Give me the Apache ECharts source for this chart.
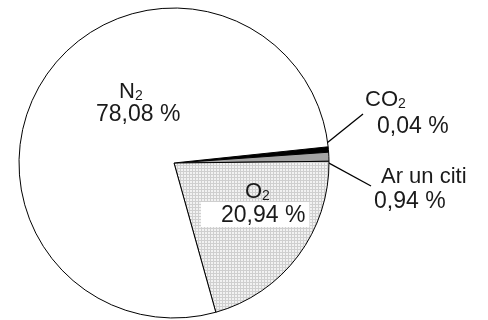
<!DOCTYPE html>
<html>
<head>
<meta charset="utf-8">
<script src="https://cdn.jsdelivr.net/npm/echarts@6/dist/echarts.min.js"></script>
<style>html,body{margin:0;padding:0;background:#fff}#c{width:488px;height:320px}</style>
</head>
<body>
<div id="c"></div>
<script>
// ---- data ----
const names = ['CO2', 'Ar un citi', 'O2', 'N2'];
const values = [0.04, 0.94, 20.94, 78.08];
const valueLabels = ['0,04 %', '0,94 %', '20,94 %', '78,08 %'];

// ---- layout / style (not data) ----
const CX = 174, CY = 163, R = 155;
// label top-left [x, y] and optional leader-line end [x, y]
const LABEL_POS = [
  [365, 87, 363, 114],
  [374, 164, 371, 186],
  [201, 179],
  [96, 79]
];

function makePattern() {
  const c = document.createElement('canvas');
  c.width = 3; c.height = 3;
  const g = c.getContext('2d');
  g.fillStyle = '#f2f2f2'; g.fillRect(0, 0, 3, 3);
  g.fillStyle = '#cfcfcf';
  g.fillRect(0, 0, 3, 1);
  g.fillRect(0, 0, 1, 3);
  return c;
}
const colors = ['#000000', '#a3a3a3', { image: makePattern(), repeat: 'repeat' }, '#ffffff'];

const FONT = '"Liberation Sans", Arial, sans-serif';
const base = { color: '#1a1a1a', fontFamily: FONT };
function st(o) { return Object.assign({}, base, o); }
const rich = {
  n:  st({ fontSize: 22, lineHeight: 24, verticalAlign: 'bottom' }),
  nN: st({ fontSize: 22, lineHeight: 24, verticalAlign: 'bottom', padding: [0, 0, 0, 23] }),
  nO: st({ fontSize: 22, lineHeight: 24, verticalAlign: 'bottom', padding: [0, 0, 0, 44] }),
  nA: st({ fontSize: 22, lineHeight: 24, verticalAlign: 'bottom', padding: [0, 0, 0, 7] }),
  s:  st({ fontSize: 14, lineHeight: 14, verticalAlign: 'bottom' }),
  v:  st({ fontSize: 23, lineHeight: 24 }),
  vA: st({ fontSize: 23, lineHeight: 27 }),
  vC: st({ fontSize: 23, lineHeight: 31, padding: [0, 0, 0, 12] }),
  vO: st({ fontSize: 23, lineHeight: 23, backgroundColor: '#ffffff', padding: [2, 4, 0, 20] })
};

function nameText(i) {
  const n = names[i];
  if (n === 'CO2') return '{n|CO}{s|2}';
  if (n === 'O2') return '{nO|O}{s|2}';
  if (n === 'N2') return '{nN|N}{s|2}';
  return '{nA|' + n + '}';
}
function valueText(i) {
  const n = names[i];
  if (n === 'CO2') return '{vC|' + valueLabels[i] + '}';
  if (n === 'O2') return '{vO|' + valueLabels[i] + '}';
  if (n === 'N2') return '{v|' + valueLabels[i] + '}';
  return '{vA|' + valueLabels[i] + '}';
}

const data = names.map((n, i) => ({
  name: n,
  value: values[i],
  itemStyle: { color: colors[i] },
  label: { position: i < 2 ? 'outside' : 'inside' },
  labelLine: { show: i < 2 }
}));

const chart = echarts.init(document.getElementById('c'), null, { renderer: 'canvas' });
chart.setOption({
  animation: false,
  backgroundColor: '#ffffff',
  series: [{
    type: 'pie',
    center: [CX, CY],
    radius: [0, R],
    startAngle: 6,
    clockwise: true,
    minAngle: 2,
    avoidLabelOverlap: false,
    data: data,
    itemStyle: { borderColor: '#000000', borderWidth: 1 },
    emphasis: { disabled: true },
    label: {
      show: true,
      formatter: p => nameText(p.dataIndex) + '\n' + valueText(p.dataIndex),
      rich: rich,
      align: 'left'
    },
    labelLine: {
      show: true,
      length: 20,
      length2: 0,
      lineStyle: { color: '#000000', width: 1.3 }
    },
    labelLayout: function (p) {
      const pos = LABEL_POS[p.dataIndex];
      const out = { x: pos[0], y: pos[1], align: 'left', verticalAlign: 'top' };
      if (pos.length > 2 && p.labelLinePoints) {
        const a = p.labelLinePoints[0];
        const s = [CX + (a[0] - CX) * 0.93, CY + (a[1] - CY) * 0.93];
        out.labelLinePoints = [s, [pos[2], pos[3]]];
      }
      return out;
    }
  }]
});
</script>
</body>
</html>
